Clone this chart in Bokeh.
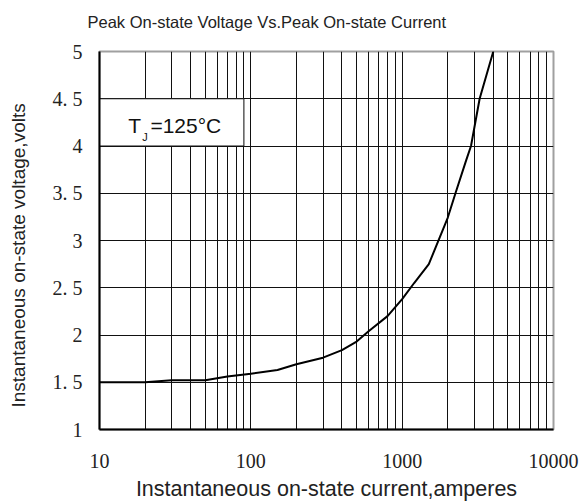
from bokeh.plotting import figure
from bokeh.models import Range1d, FixedTicker, Label, Title
from bokeh.embed import file_html
from bokeh.resources import INLINE

# ---- data ----
current = [10, 20, 30, 50, 70, 100, 150, 200, 300, 400, 500, 600, 800, 1000,
           1200, 1500, 2000, 2250, 2650, 2850, 3250, 4000]
voltage = [1.50, 1.50, 1.52, 1.52, 1.56, 1.59, 1.63, 1.69, 1.76, 1.84, 1.93,
           2.04, 2.20, 2.38, 2.55, 2.75, 3.24, 3.50, 3.85, 4.00, 4.50, 5.00]

x_major = [10, 100, 1000, 10000]
x_tick_labels = ["10", "100", "1000", "10000"]
x_minor = [m * d for d in (10, 100, 1000) for m in range(2, 10)]
y_ticks = [1, 1.5, 2, 2.5, 3, 3.5, 4, 4.5, 5]
y_tick_labels = ["1", "1. 5", "2", "2. 5", "3", "3. 5", "4", "4. 5", "5"]

title_text = "Peak On-state Voltage Vs.Peak On-state Current"
x_label = "Instantaneous on-state current,amperes"
y_label = "Instantaneous on-state voltage,volts"
box_x = [10, 90]
box_y = [4.0, 4.5]

SANS = "Liberation Sans"
SERIF = "Liberation Serif"

p = figure(width=584, height=504, x_axis_type="log",
           x_range=Range1d(10, 10000), y_range=Range1d(1, 5),
           output_backend="svg", toolbar_location=None,
           min_border_left=99, min_border_right=31,
           min_border_top=51, min_border_bottom=75)

# title: an empty second line lifts the text well above the frame
p.title.text = title_text + "\n"
p.title.align = "left"
p.title.offset = -12
p.title.vertical_align = "bottom"
p.title.text_font = SANS
p.title.text_font_size = "16.5px"
p.title.text_font_style = "normal"
p.title.text_color = "#222222"
p.title.standoff = 6

xt = FixedTicker(ticks=x_major, minor_ticks=x_minor)
yt = FixedTicker(ticks=y_ticks)
p.xaxis.ticker = xt
p.yaxis.ticker = yt
p.xgrid.ticker = xt
p.ygrid.ticker = yt
p.xaxis.major_label_overrides = {t: l for t, l in zip(x_major, x_tick_labels)}
p.yaxis.major_label_overrides = {t: l for t, l in zip(y_ticks, y_tick_labels)}

for g in (p.xgrid, p.ygrid):
    g.grid_line_color = "#111111"
    g.grid_line_alpha = 1.0
    g.grid_line_width = 1
p.xgrid.minor_grid_line_color = "#111111"
p.xgrid.minor_grid_line_width = 1

for ax in (p.xaxis, p.yaxis):
    ax.axis_line_color = "black"
    ax.axis_line_width = 2
    ax.major_tick_in = 0
    ax.major_tick_out = 0
    ax.minor_tick_in = 0
    ax.minor_tick_out = 0
    ax.major_label_text_font = SERIF
    ax.major_label_text_font_size = "20px"
    ax.major_label_text_color = "#222222"
    ax.axis_label_text_font = SANS
    ax.axis_label_text_font_style = "normal"
    ax.axis_label_text_color = "#222222"

p.xaxis.axis_label = x_label
p.xaxis.axis_label_text_font_size = "21.5px"
p.xaxis.major_label_standoff = 24
p.xaxis.axis_label_standoff = 6
p.yaxis.major_label_standoff = 17

# y-axis title, set lower along the side as in the reference
p.add_layout(Title(text=y_label + "\n", align="left", offset=22,
                   vertical_align="bottom", standoff=0, text_font=SANS,
                   text_font_size="19px", text_font_style="normal",
                   text_color="#222222"), "left")

p.outline_line_color = "#a0a0a0"
p.outline_line_width = 2
p.background_fill_color = "white"
p.border_fill_color = "white"

# TJ box
p.quad(left=[box_x[0]], right=[box_x[1]], bottom=[box_y[0]], top=[box_y[1]],
       fill_color="white", line_color="#111111", line_width=1)

# curve
p.line(current, voltage, line_color="black", line_width=2)

p.add_layout(Label(x=15.5, y=4.215, text="T", text_font=SANS,
                   text_font_size="21px", text_color="#111111",
                   text_baseline="alphabetic"))
p.add_layout(Label(x=19.2, y=4.09, text="J", text_font=SANS,
                   text_font_size="11px", text_color="#111111",
                   text_baseline="alphabetic"))
p.add_layout(Label(x=21.7, y=4.215, text="=125°C", text_font=SANS,
                   text_font_size="21px", text_color="#111111",
                   text_baseline="alphabetic"))

open("out.html", "w").write(file_html(p, INLINE))
